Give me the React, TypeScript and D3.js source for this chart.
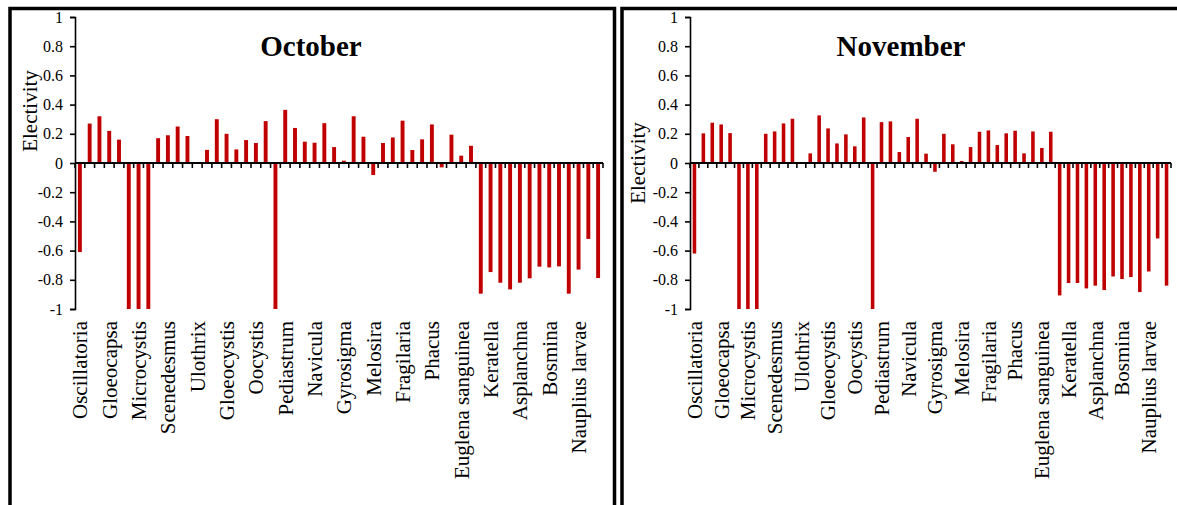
import React, { useRef, useEffect } from 'react';
import * as d3 from 'd3';

// labels are shown on every third category
const tickLabels = [
  'Oscillatoria', 'Gloeocapsa', 'Microcystis', 'Scenedesmus', 'Ulothrix', 'Gloeocystis',
  'Oocystis', 'Pediastrum', 'Navicula', 'Gyrosigma', 'Melosira', 'Fragilaria',
  'Phacus', 'Euglena sanguinea', 'Keratella', 'Asplanchna', 'Bosmina', 'Nauplius larvae',
];

const octoberValues = [
  -0.61, 0.27, 0.32, 0.22, 0.16, -1, -1, -1, 0.17, 0.19,
  0.25, 0.185, 0, 0.09, 0.3, 0.2, 0.093, 0.157, 0.137, 0.287,
  -1, 0.364, 0.24, 0.146, 0.139, 0.273, 0.109, 0.016, 0.32, 0.18,
  -0.082, 0.137, 0.175, 0.29, 0.089, 0.162, 0.264, -0.03, 0.194, 0.05,
  0.118, -0.895, -0.747, -0.82, -0.866, -0.82, -0.79, -0.71, -0.715, -0.708,
  -0.895, -0.73, -0.52, -0.788,
];

const novemberValues = [
  -0.62, 0.203, 0.276, 0.264, 0.205, -1, -1, -1, 0.2, 0.216,
  0.271, 0.303, -0.005, 0.066, 0.326, 0.237, 0.134, 0.196, 0.114, 0.312,
  -1, 0.28, 0.285, 0.075, 0.178, 0.303, 0.064, -0.06, 0.2, 0.128,
  0.014, 0.109, 0.214, 0.223, 0.123, 0.203, 0.221, 0.066, 0.216, 0.103,
  0.214, -0.907, -0.822, -0.822, -0.859, -0.84, -0.87, -0.777, -0.795, -0.781,
  -0.884, -0.743, -0.517, -0.84,
];

const yTicks = [1, 0.8, 0.6, 0.4, 0.2, 0, -0.2, -0.4, -0.6, -0.8, -1];

const FONT = '"Liberation Serif", "Times New Roman", serif';
const BAR_COLOR = '#c00000';

const panels = [
  { title: 'October', values: octoberValues, left: 75, right: 603, titleX: 311, labelX: 30, labelY: 111 },
  { title: 'November', values: novemberValues, left: 690, right: 1171, titleX: 901, labelX: 638, labelY: 163 },
];

const App = () => {
  const svgRef = useRef<SVGSVGElement>(null);

  useEffect(() => {
    const svg = d3.select(svgRef.current);
    svg.selectAll('*').remove();

    svg.append('rect').attr('width', 1177).attr('height', 505).attr('fill', '#fff');

    // panel frames (open at the bottom, right one runs off the page)
    svg.append('path')
      .attr('d', 'M10,520 V8.5 H614.5 V520')
      .attr('fill', 'none').attr('stroke', '#000').attr('stroke-width', 3.5);
    svg.append('path')
      .attr('d', 'M622,520 V8.5 H1190')
      .attr('fill', 'none').attr('stroke', '#000').attr('stroke-width', 3.5);

    const y = d3.scaleLinear().domain([-1, 1]).range([309, 17]);

    panels.forEach(p => {
      const g = svg.append('g').attr('font-family', FONT);
      const idx = d3.range(p.values.length);
      const x = d3.scaleBand<number>().domain(idx).range([p.left, p.right]).padding(0);
      const bw = x.bandwidth() * 0.4;

      // bars
      g.selectAll('rect.bar')
        .data(p.values)
        .join('rect')
        .attr('class', 'bar')
        .attr('x', (d, i) => (x(i) as number) + x.bandwidth() / 2 - bw / 2)
        .attr('y', d => y(Math.max(0, d)))
        .attr('width', bw)
        .attr('height', d => Math.abs(y(d) - y(0)))
        .attr('fill', BAR_COLOR);

      // y axis
      const yAxis = g.append('g')
        .attr('transform', `translate(${p.left},0)`)
        .call(d3.axisLeft(y).tickValues(yTicks).tickSize(5).tickSizeOuter(5).tickPadding(7)
          .tickFormat(d => String(+(+d).toFixed(1))));
      yAxis.attr('font-family', FONT).attr('font-size', 16);
      yAxis.select('.domain').attr('stroke-width', 1.6);
      yAxis.selectAll('.tick line').attr('stroke-width', 1.6);
      yAxis.selectAll('text')
        .style('font-family', FONT)
        .style('font-size', '16px')
        .style('fill', '#000');

      // zero line with category ticks at band edges
      g.append('line')
        .attr('x1', p.left).attr('x2', p.right)
        .attr('y1', y(0)).attr('y2', y(0))
        .attr('stroke', '#000').attr('stroke-width', 2);
      g.selectAll('line.xt')
        .data(d3.range(p.values.length + 1))
        .join('line')
        .attr('class', 'xt')
        .attr('x1', i => p.left + i * x.step())
        .attr('x2', i => p.left + i * x.step())
        .attr('y1', y(0))
        .attr('y2', y(0) + 5)
        .attr('stroke', '#000').attr('stroke-width', 1.6);

      // category labels
      g.selectAll('text.cat')
        .data(tickLabels)
        .join('text')
        .attr('class', 'cat')
        .attr('transform', (d, i) => `translate(${(x(i * 3) as number) + x.bandwidth() / 2},321) rotate(-90)`)
        .attr('dy', '0.35em')
        .attr('text-anchor', 'end')
        .style('font-family', FONT)
        .style('font-size', '21px')
        .text(d => d);

      // axis title
      g.append('text')
        .attr('transform', `translate(${p.labelX},${p.labelY}) rotate(-90)`)
        .attr('dy', '0.35em')
        .attr('text-anchor', 'middle')
        .style('font-family', FONT)
        .style('font-size', '21px')
        .text('Electivity');

      // panel title
      g.append('text')
        .attr('x', p.titleX)
        .attr('y', 56)
        .attr('text-anchor', 'middle')
        .style('font-family', FONT)
        .style('font-size', '29px')
        .style('font-weight', 'bold')
        .text(p.title);
    });
  }, []);

  return (
    <div style={{ position: 'absolute', left: 0, top: 0 }}>
      <svg ref={svgRef} width={1177} height={505} style={{ display: 'block' }} />
    </div>
  );
};

export default App;
